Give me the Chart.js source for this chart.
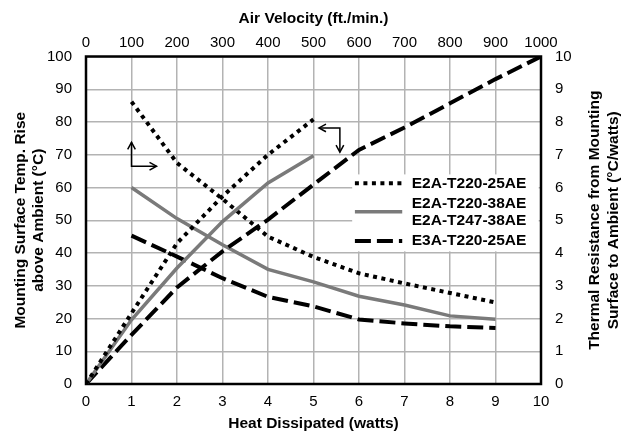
<!DOCTYPE html>
<html>
<head>
<meta charset="utf-8">
<script src="https://cdn.jsdelivr.net/npm/chart.js@4/dist/chart.umd.min.js"></script>
<style>
html,body{margin:0;padding:0;background:#fff;}
#wrap{width:623px;height:433px;position:relative;}
</style>
</head>
<body>
<div id="wrap"><canvas id="c" width="623" height="433"></canvas></div>
<script>
// ---- Data ----
const heatWatts = [0, 1, 2, 3, 4, 5, 6, 7, 8, 9, 10];
const riseE2A25 = [0, 21.6, 43, 57.3, 70, 80.8];
const riseE2A38 = [0, 19.6, 35.4, 49.6, 61.4, 69.7];
const riseE3A25 = [0, 15, 29.5, 40.5, 50.2, 60.9, 71.5, 78.3, 85.7, 93.1, 100];

const airVelocity = [100, 200, 300, 400, 500, 600, 700, 800, 900];
const resE2A25 = [8.62, 6.75, 5.65, 4.5, 3.88, 3.38, 3.07, 2.78, 2.49];
const resE2A38 = [6.0, 5.05, 4.25, 3.5, 3.12, 2.68, 2.41, 2.08, 1.98];
const resE3A25 = [4.53, 3.89, 3.23, 2.66, 2.37, 1.97, 1.85, 1.76, 1.71];

const legendLabels = [['E2A-T220-25AE'], ['E2A-T220-38AE', 'E2A-T247-38AE'], ['E3A-T220-25AE']];

const bottomTitle = 'Heat Dissipated (watts)';
const topTitle = 'Air Velocity (ft./min.)';
const leftTitle = ['Mounting Surface Temp. Rise', 'above Ambient (\u00B0C)'];
const rightTitle = ['Thermal Resistance from Mounting', 'Surface to Ambient (\u00B0C/watts)'];

// ---- Styles ----
const FONT = '"Liberation Sans", Arial, Helvetica, sans-serif';
const styles = [
  {color: '#000', width: 4, dash: [4, 4.5]},
  {color: '#7a7a7a', width: 3.5, dash: []},
  {color: '#000', width: 4, dash: [16, 6]}
];

function pts(xs, ys) { return ys.map((v, i) => ({x: xs[i], y: v})); }

function ds(label, data, s, xAxis, yAxis) {
  return {
    label, data, xAxisID: xAxis, yAxisID: yAxis,
    borderColor: s.color, borderWidth: s.width, borderDash: s.dash,
    borderCapStyle: 'butt', borderJoinStyle: 'miter',
    pointRadius: 0, fill: false, tension: 0
  };
}

const datasets = [
  ds(legendLabels[0].join(' '), pts(heatWatts, riseE2A25), styles[0], 'x', 'y'),
  ds(legendLabels[1].join(' '), pts(heatWatts, riseE2A38), styles[1], 'x', 'y'),
  ds(legendLabels[2].join(' '), pts(heatWatts, riseE3A25), styles[2], 'x', 'y'),
  ds(legendLabels[0].join(' '), pts(airVelocity, resE2A25), styles[0], 'x2', 'y2'),
  ds(legendLabels[1].join(' '), pts(airVelocity, resE2A38), styles[1], 'x2', 'y2'),
  ds(legendLabels[2].join(' '), pts(airVelocity, resE3A25), styles[2], 'x2', 'y2')
];

const tickFont = {family: FONT, size: 15};
const titleFont = {family: FONT, size: 15.5, weight: 'bold', lineHeight: 1.16};
const plain = v => String(v);

const decorPlugin = {
  id: 'decor',
  beforeDatasetsDraw(chart) {
    const {ctx, chartArea: a, scales} = chart;
    const xs = scales.x, ys = scales.y;
    ctx.save();
    // legend background box
    ctx.fillStyle = '#fff';
    ctx.fillRect(xs.getPixelForValue(5.85), ys.getPixelForValue(64), xs.getPixelForValue(9.95) - xs.getPixelForValue(5.85), ys.getPixelForValue(40.5) - ys.getPixelForValue(64));
    // border
    ctx.strokeStyle = '#000';
    ctx.lineWidth = 2.5;
    ctx.strokeRect(a.left, a.top, a.right - a.left, a.bottom - a.top);
    ctx.restore();
  },
  afterDatasetsDraw(chart) {
    const {ctx, scales} = chart;
    const xs = scales.x, ys = scales.y;
    ctx.save();
    // legend
    const lx0 = xs.getPixelForValue(5.91), lx1 = xs.getPixelForValue(6.95), tx = xs.getPixelForValue(7.16);
    const rows = [ys.getPixelForValue(61.3), ys.getPixelForValue(52.6), ys.getPixelForValue(43.7)];
    ctx.font = 'bold 15.5px ' + FONT;
    ctx.textBaseline = 'middle';
    ctx.textAlign = 'left';
    legendLabels.forEach((lines, i) => {
      const s = styles[i];
      ctx.strokeStyle = s.color; ctx.lineWidth = s.width; ctx.setLineDash(s.dash); ctx.lineCap = 'butt';
      ctx.beginPath(); ctx.moveTo(lx0, rows[i]); ctx.lineTo(lx1, rows[i]); ctx.stroke();
      ctx.setLineDash([]);
      ctx.fillStyle = '#000';
      if (lines.length === 1) ctx.fillText(lines[0], tx, rows[i]);
      else { ctx.fillText(lines[0], tx, rows[i] - 8.5); ctx.fillText(lines[1], tx, rows[i] + 9); }
    });
    // arrows
    ctx.strokeStyle = '#000'; ctx.lineWidth = 1.5; ctx.setLineDash([]);
    function arrowHead(x, y, ang) {
      const L = 8, W = 0.5;
      ctx.beginPath();
      ctx.moveTo(x - L * Math.cos(ang - W), y - L * Math.sin(ang - W));
      ctx.lineTo(x, y);
      ctx.lineTo(x - L * Math.cos(ang + W), y - L * Math.sin(ang + W));
      ctx.stroke();
    }
    // arrow 1 (up + right)
    let cx = xs.getPixelForValue(1), cy = ys.getPixelForValue(66.5);
    let ux = cx, uy = ys.getPixelForValue(73.8);
    let rx = xs.getPixelForValue(1.55), ry = cy;
    ctx.beginPath(); ctx.moveTo(ux, uy); ctx.lineTo(cx, cy); ctx.lineTo(rx, ry); ctx.stroke();
    arrowHead(ux, uy, -Math.PI / 2);
    arrowHead(rx, ry, 0);
    // arrow 2 (left + down)
    cx = xs.getPixelForValue(5.58); cy = ys.getPixelForValue(78.2);
    let lx = xs.getPixelForValue(5.12), ly = cy;
    let dx = cx, dy = ys.getPixelForValue(70.8);
    ctx.beginPath(); ctx.moveTo(lx, ly); ctx.lineTo(cx, cy); ctx.lineTo(dx, dy); ctx.stroke();
    arrowHead(lx, ly, Math.PI);
    arrowHead(dx, dy, Math.PI / 2);
    ctx.restore();
  },
  afterDraw(chart) {
    const {ctx, chartArea: a} = chart;
    ctx.save();
    ctx.font = 'bold 15.5px ' + FONT;
    ctx.fillStyle = '#000';
    ctx.textAlign = 'center';
    ctx.textBaseline = 'middle';
    const cy = (a.top + a.bottom) / 2;
    ctx.translate(594.5, cy);
    ctx.rotate(-Math.PI / 2);
    ctx.fillText(rightTitle[0], 0, 0);
    ctx.fillText(rightTitle[1], 0, 19);
    ctx.restore();
  }
};

new Chart(document.getElementById('c'), {
  type: 'line',
  data: {datasets},
  plugins: [decorPlugin],
  options: {
    responsive: false,
    animation: false,
    devicePixelRatio: 1,
    layout: {padding: 0},
    plugins: {legend: {display: false}, tooltip: {enabled: false}},
    scales: {
      x: {
        type: 'linear', position: 'bottom', min: 0, max: 10,
        ticks: {stepSize: 1, color: '#000', font: tickFont, padding: 9, callback: plain},
        grid: {color: '#b3b3b3', lineWidth: 1.5, drawTicks: false},
        border: {display: false},
        title: {display: true, text: bottomTitle, color: '#000', font: titleFont, padding: {top: 0, bottom: 0}},
        afterFit(s) { s.height = 49; }
      },
      x2: {
        type: 'linear', position: 'top', min: 0, max: 1000,
        ticks: {stepSize: 100, color: '#000', font: tickFont, padding: 5, callback: plain},
        grid: {display: false, drawTicks: false},
        border: {display: false},
        title: {display: true, text: topTitle, color: '#000', font: titleFont, padding: {top: 10, bottom: 0}},
        afterFit(s) { s.height = 56.5; }
      },
      y: {
        type: 'linear', position: 'left', min: 0, max: 100,
        ticks: {stepSize: 10, color: '#000', font: tickFont, padding: 14, callback: plain},
        grid: {color: '#b3b3b3', lineWidth: 1.5, drawTicks: false},
        border: {display: false},
        title: {display: true, text: leftTitle, color: '#000', font: titleFont, padding: {top: 12, bottom: 0}},
        afterFit(s) { s.width = 86; }
      },
      y2: {
        type: 'linear', position: 'right', min: 0, max: 10,
        ticks: {stepSize: 1, color: '#000', font: tickFont, padding: 14, callback: plain},
        grid: {display: false, drawTicks: false},
        border: {display: false},
        afterFit(s) { s.width = 82; }
      }
    }
  }
});
</script>
</body>
</html>
